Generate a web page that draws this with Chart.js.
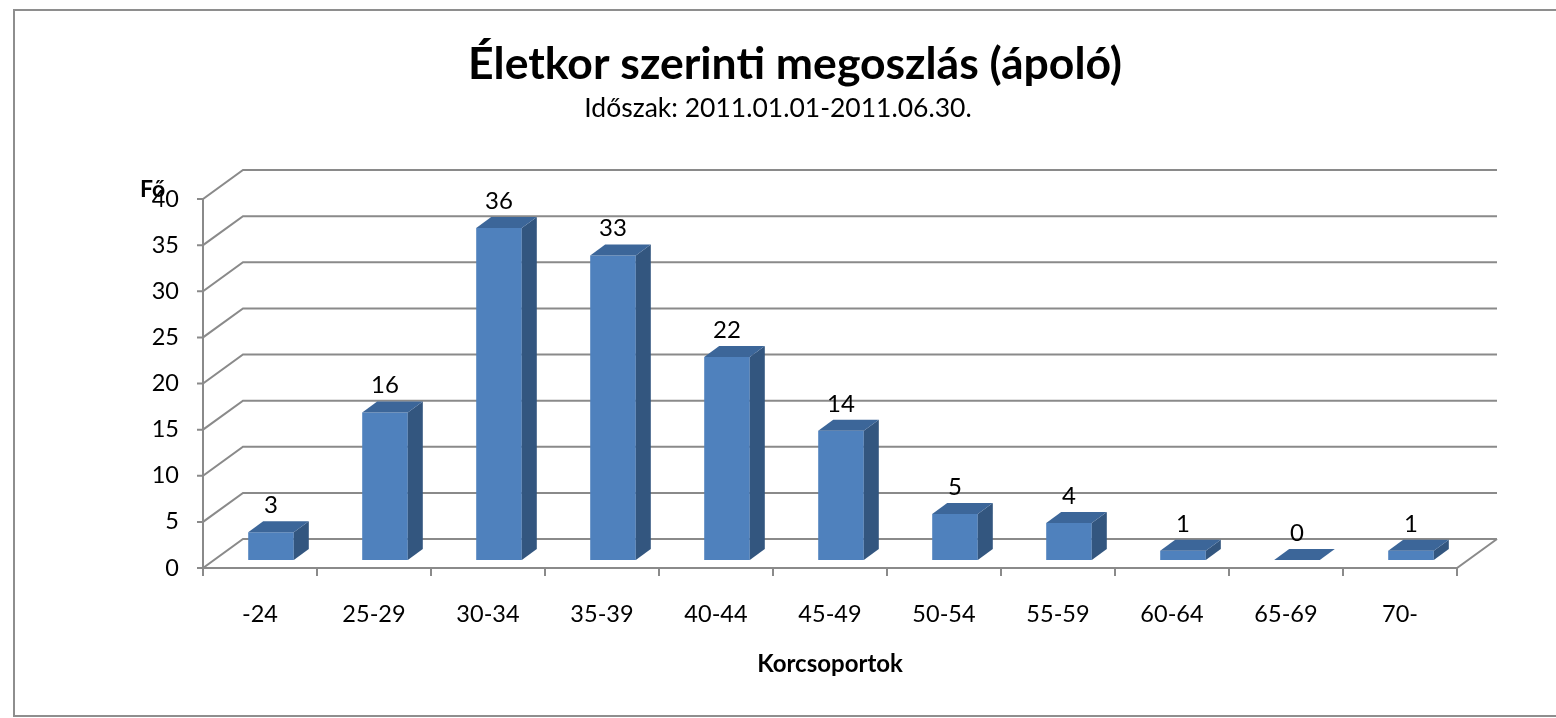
<!DOCTYPE html>
<html lang="hu">
<head>
<meta charset="utf-8">
<title>Életkor szerinti megoszlás (ápoló)</title>
<script src="https://cdn.jsdelivr.net/npm/chart.js@4.4.1/dist/chart.umd.min.js"></script>
<style>
  html, body { margin: 0; padding: 0; background: #fff; overflow: hidden; }
  #wrap { width: 1556px; height: 718px; }
</style>
</head>
<body>
<div id="wrap"><canvas id="ageChart" width="1556" height="718"></canvas></div>
<script>
// === Adatok ===
const korcsoportok = ['-24', '25-29', '30-34', '35-39', '40-44', '45-49', '50-54', '55-59', '60-64', '65-69', '70-'];
const letszam = [3, 16, 36, 33, 22, 14, 5, 4, 1, 0, 1];
const yTicks = [0, 5, 10, 15, 20, 25, 30, 35, 40];

const chartTitle = 'Életkor szerinti megoszlás (ápoló)';
const chartSubtitle = 'Időszak: 2011.01.01-2011.06.30.';
const yTitle = 'Fő';
const xTitle = 'Korcsoportok';

// === Style 3D ===
const FONT = 'Lato, "Open Sans", sans-serif';
const GRID = '#8a8a8a';
const WALL = { dx: 40, dy: -29 };      // profondeur du mur du fond
const BAR_SHIFT = { dx: 11, dy: -8 };  // position des barres dans la profondeur
const BAR_DEPTH = { dx: 15, dy: -11 };
const COL_FRONT = '#4f81bd';
const COL_TOP = '#3c6699';
const COL_SIDE = '#33567f';

function poly(ctx, pts, fill) {
  ctx.beginPath();
  ctx.moveTo(pts[0][0], pts[0][1]);
  for (let i = 1; i < pts.length; i++) ctx.lineTo(pts[i][0], pts[i][1]);
  ctx.closePath();
  ctx.fillStyle = fill;
  ctx.fill();
}

const box3d = {
  id: 'box3d',
  beforeDraw(chart) {
    const ctx = chart.ctx;
    ctx.save();
    ctx.fillStyle = '#fff';
    ctx.fillRect(0, 0, chart.width, chart.height);
    ctx.strokeStyle = '#8e8e8e';
    ctx.lineWidth = 2;
    ctx.strokeRect(14, 10, chart.width + 40, chart.height - 12);
    // sous-titre
    ctx.fillStyle = '#000';
    ctx.font = '26.5px ' + FONT;
    ctx.textAlign = 'center';
    ctx.textBaseline = 'alphabetic';
    ctx.fillText(chartSubtitle, 778, 117);
    ctx.restore();
  },
  beforeDatasetsDraw(chart) {
    const ctx = chart.ctx;
    const { left, right, top, bottom } = chart.chartArea;
    const ys = chart.scales.y;
    const xs = chart.scales.x;
    ctx.save();
    ctx.strokeStyle = GRID;
    ctx.lineWidth = 2;
    ctx.lineCap = 'butt';
    // murs : lignes de grille
    yTicks.forEach(v => {
      const y = ys.getPixelForValue(v);
      ctx.beginPath();
      ctx.moveTo(left - 6, y);
      ctx.lineTo(left, y);
      ctx.lineTo(left + WALL.dx, y + WALL.dy);
      ctx.lineTo(right + WALL.dx, y + WALL.dy);
      ctx.stroke();
    });
    // axe vertical + sol
    ctx.beginPath();
    ctx.moveTo(left, top);
    ctx.lineTo(left, bottom);
    ctx.lineTo(right, bottom);
    ctx.lineTo(right + WALL.dx, bottom + WALL.dy);
    ctx.stroke();
    // graduations des catégories
    for (let i = 0; i <= korcsoportok.length; i++) {
      const x = xs.getPixelForValue(i - 0.5);
      ctx.beginPath();
      ctx.moveTo(x, bottom);
      ctx.lineTo(x, bottom + 8);
      ctx.stroke();
    }
    // titre de l'axe Y
    ctx.fillStyle = '#000';
    ctx.font = 'bold 23px ' + FONT;
    ctx.textAlign = 'left';
    ctx.textBaseline = 'alphabetic';
    ctx.fillText(yTitle, left - 63, top - 2);
    ctx.restore();

    ctx.save();
    ctx.translate(BAR_SHIFT.dx, BAR_SHIFT.dy);
  },
  afterDatasetsDraw(chart) {
    const ctx = chart.ctx;
    const meta = chart.getDatasetMeta(0);
    meta.data.forEach((bar, i) => {
      const { x, y, base, width } = bar.getProps(['x', 'y', 'base', 'width'], true);
      const l = x - width / 2, r = x + width / 2;
      const dx = BAR_DEPTH.dx, dy = BAR_DEPTH.dy;
      poly(ctx, [[r, y], [r + dx, y + dy], [r + dx, base + dy], [r, base]], COL_SIDE);
      poly(ctx, [[l, y], [r, y], [r + dx, y + dy], [l + dx, y + dy]], COL_TOP);
      ctx.fillStyle = '#000';
      ctx.font = '24px ' + FONT;
      ctx.textAlign = 'center';
      ctx.textBaseline = 'middle';
      ctx.fillText(String(letszam[i]), x, y - 27);
    });
    ctx.restore();
  }
};

new Chart(document.getElementById('ageChart'), {
  type: 'bar',
  data: {
    labels: korcsoportok,
    datasets: [{
      label: yTitle,
      data: letszam,
      backgroundColor: COL_FRONT,
      borderWidth: 0,
      categoryPercentage: 1,
      barPercentage: 0.4
    }]
  },
  options: {
    responsive: false,
    animation: false,
    layout: { padding: { left: 133, right: 99, top: 0, bottom: 0 } },
    plugins: {
      legend: { display: false },
      tooltip: { enabled: false },
      title: {
        display: true,
        text: chartTitle,
        color: '#000',
        font: { family: FONT, size: 44.5, weight: 'bold' },
        padding: { top: 38.3, bottom: 107.3 }
      }
    },
    scales: {
      y: {
        min: 0,
        max: 40,
        afterFit: s => { s.width = 70; },
        afterBuildTicks: s => { s.ticks = yTicks.map(v => ({ value: v })); },
        grid: { display: false, drawTicks: false },
        border: { display: false },
        ticks: { color: '#000', padding: 24, font: { family: FONT, size: 23.5 } }
      },
      x: {
        afterFit: s => { s.height = 150; },
        grid: { display: false, drawTicks: false },
        border: { display: false },
        ticks: { color: '#000', padding: 32, maxRotation: 0, font: { family: FONT, size: 23.5 } },
        title: {
          display: true,
          text: xTitle,
          color: '#000',
          font: { family: FONT, size: 24, weight: 'bold' },
          padding: { top: 0, bottom: 39 }
        }
      }
    }
  },
  plugins: [box3d]
});
</script>
</body>
</html>
